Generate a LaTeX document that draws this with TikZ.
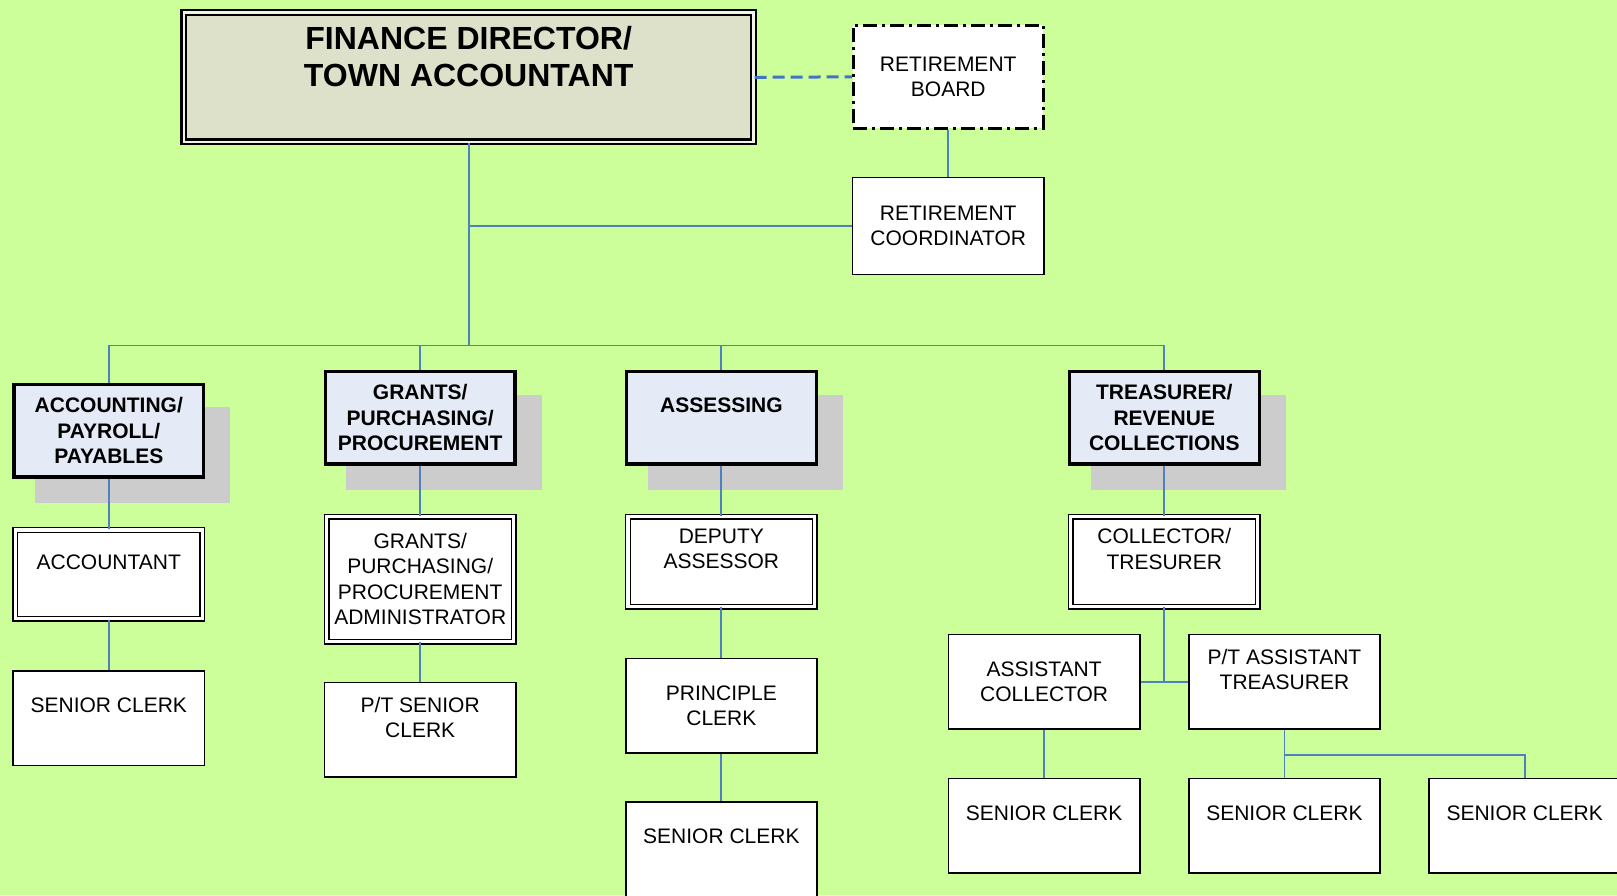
\documentclass[tikz,border=0pt]{standalone}
\usepackage{fontspec}
\setmainfont{Liberation Sans}
\usetikzlibrary{shadows}
\definecolor{pagegreen}{HTML}{CCFF99}
\definecolor{linkblue}{HTML}{4F81BD}
\definecolor{dashblue}{HTML}{4472C4}
\definecolor{headfill}{HTML}{DDE1C9}
\definecolor{deptfill}{HTML}{E4EAF6}
\definecolor{shadowgray}{HTML}{CCCCCC}
\newcommand{\boxfont}{\fontsize{10.5}{12.6}\selectfont}
\tikzset{
  headbox/.style={draw, fill=headfill, line width=1.1pt, double=headfill!40!white, double distance=1.3pt,
    minimum width=284.7pt, minimum height=64.6pt, inner sep=0pt, align=center,
    font=\fontsize{16}{18.6}\selectfont\bfseries},
  boardbox/.style={draw, fill=white, line width=1.5pt, dash pattern=on 7pt off 2.5pt on 1.5pt off 2.5pt,
    minimum width=94.9pt, minimum height=51.6pt, inner sep=0pt, align=center, font=\boxfont},
  plainbox/.style={draw, fill=white, line width=0.8pt, minimum width=95.6pt, minimum height=47.2pt,
    inner sep=0pt, align=center, font=\boxfont},
  staffbox/.style={draw, fill=white, line width=0.7pt, double=white, double distance=1.6pt,
    minimum width=93.4pt, minimum height=45pt, inner sep=0pt, align=center, font=\boxfont},
  deptbox/.style={draw, fill=deptfill, line width=1.6pt, minimum width=94.8pt, minimum height=46.4pt,
    inner sep=0pt, align=center, font=\boxfont\bfseries,
    drop shadow={shadow xshift=11.6pt, shadow yshift=-12pt, shadow scale=1.03, fill=shadowgray, opacity=1}},
  link/.style={draw=linkblue, line width=0.9pt}
}
\begin{document}
\begin{tikzpicture}[x=0.5156pt, y=-0.5156pt]
\useasboundingbox (0,0) rectangle (1568,868);
\fill[pagegreen] (0,0) rectangle (1568,868);

\node[headbox] (fin) at (454.5,75) {FINANCE DIRECTOR/\\TOWN ACCOUNTANT\\[2pt]~};
\node[boardbox] (rboard) at (919.5,74.5) {RETIREMENT\\BOARD};
\node[plainbox, minimum height=48.5pt] (rcoord) at (919.5,219) {RETIREMENT\\COORDINATOR};

\node[deptbox] (acct) at (105.5,417.5) {ACCOUNTING/\\PAYROLL/\\PAYABLES};
\node[deptbox] (grants) at (407.5,405) {GRANTS/\\PURCHASING/\\PROCUREMENT};
\node[deptbox] (assess) at (699.5,405) {ASSESSING\\~};
\node[deptbox] (treas) at (1129,405) {TREASURER/\\REVENUE\\COLLECTIONS};

\node[staffbox, minimum height=44.4pt] (accountant) at (105.5,557) {ACCOUNTANT\\~};
\node[staffbox, minimum height=62.5pt] (gadmin) at (407.5,561.5) {GRANTS/\\PURCHASING/\\PROCUREMENT\\ADMINISTRATOR};
\node[staffbox] (deputy) at (699.5,544.5) {DEPUTY\\ASSESSOR\\~};
\node[staffbox] (coll) at (1129,544.5) {COLLECTOR/\\TRESURER\\~};

\node[plainbox] (acctclerk) at (105.5,696.5) {SENIOR CLERK\\~};
\node[plainbox] (ptclerk) at (407.5,707.5) {P/T SENIOR\\CLERK\\~};
\node[plainbox] (princlerk) at (699.5,684.5) {PRINCIPLE\\CLERK};
\node[plainbox] (asstcoll) at (1012.5,661) {ASSISTANT\\COLLECTOR};
\node[plainbox] (asstreas) at (1245.5,661) {P/T ASSISTANT\\TREASURER\\~};

\node[plainbox] (assclerk) at (699.5,823.5) {SENIOR CLERK\\~};
\node[plainbox] (collclerk) at (1012.5,800.5) {SENIOR CLERK\\~};
\node[plainbox] (treaclerk) at (1245.5,800.5) {SENIOR CLERK\\~};
\node[plainbox] (lastclerk) at (1478.5,800.5) {SENIOR CLERK\\~};

\coordinate (bus) at (454.5,335);
\coordinate (fork) at (1245.5,732);

\draw[dashblue, line width=1.5pt, dash pattern=on 6pt off 3pt] (fin.east) -- (rboard.west);
\draw[link] (rboard.south) -- (rcoord.north);
\draw[link] (fin.south) -- (bus);
\draw[link] (rcoord.west) -- (rcoord.west -| bus);
\draw[link] (acct.north) |- (bus) -| (treas.north);
\draw[link] (grants.north) -- (grants.north |- bus);
\draw[link] (assess.north) -- (assess.north |- bus);

\draw[link] (acct.south) -- (accountant.north);
\draw[link] (accountant.south) -- (acctclerk.north);
\draw[link] (grants.south) -- (gadmin.north);
\draw[link] (gadmin.south) -- (ptclerk.north);
\draw[link] (assess.south) -- (deputy.north);
\draw[link] (deputy.south) -- (princlerk.north);
\draw[link] (princlerk.south) -- (assclerk.north);
\draw[link] (treas.south) -- (coll.north);
\draw[link] (coll.south) -- (coll.south |- asstcoll.east);
\draw[link] (asstcoll.east) -- (asstreas.west);
\draw[link] (asstcoll.south) -- (collclerk.north);
\draw[link] (asstreas.south) -- (treaclerk.north);
\draw[link] (fork) -| (lastclerk.north);
\end{tikzpicture}
\end{document}
